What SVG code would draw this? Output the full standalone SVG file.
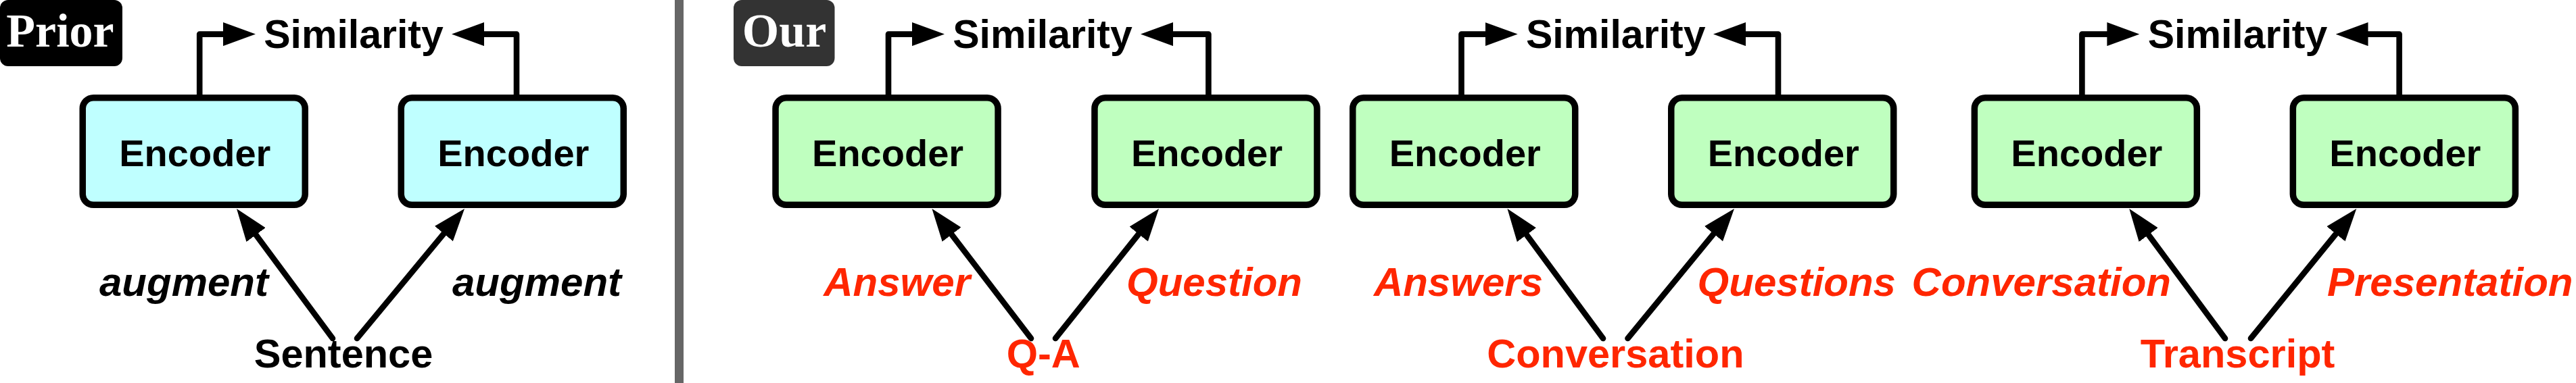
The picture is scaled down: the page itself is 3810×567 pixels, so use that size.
<svg xmlns="http://www.w3.org/2000/svg" width="3810" height="567" viewBox="0 0 3810 567">
<style>
.bg{fill:#ffffff}
.enc rect{stroke:#000;stroke-width:9.5}
.prior rect{fill:#bfffff}
.our rect{fill:#bfffbf}
.t{font-family:"Liberation Sans",Arial,Helvetica,sans-serif;font-weight:bold;text-anchor:middle}
.et{font-size:56px;fill:#000}
.sim{font-size:59px;fill:#000}
.src{font-size:59.5px}
.lab{font-family:"Liberation Sans",Arial,Helvetica,sans-serif;font-weight:bold;font-style:italic;font-size:60px}
.red{fill:#ff2600}
.blk{fill:#000}
.tag{font-family:"Liberation Serif","Times New Roman",serif;font-weight:bold;font-size:70px;fill:#fff;text-anchor:middle}
.conn path{fill:none;stroke:#000;stroke-width:8.6;stroke-linejoin:round;stroke-linecap:round;marker-end:url(#ah)}
.conn path.el{stroke-linecap:butt}
</style>
<defs>
<marker id="ah" markerUnits="userSpaceOnUse" viewBox="0 0 48 35" refX="8" refY="17.5" markerWidth="48" markerHeight="35" orient="auto">
<path d="M0,0 L48,17.5 L0,35 Z" fill="#000"/>
</marker>
</defs>
<rect class="bg" x="0" y="0" width="3810" height="567"/>

<g id="prior-tag"><rect x="0" y="0" width="181" height="98" rx="12" fill="#000"/><text class="tag" x="89" y="69">Prior</text></g>
<g id="divider"><rect x="998" y="0" width="13" height="567" fill="#666666"/></g>
<g id="our-tag"><rect x="1085" y="0" width="149.5" height="98" rx="12" fill="#333333"/><text class="tag" x="1160" y="69">Our</text></g>

<!-- Prior panel -->
<g id="enc-p1" class="enc prior"><rect x="122.25" y="144.75" width="329" height="158.5" rx="16"/><text class="t et" x="288.3" y="246">Encoder</text></g>
<g id="enc-p2" class="enc prior"><rect x="593.25" y="144.75" width="329" height="158.5" rx="16"/><text class="t et" x="759.3" y="246">Encoder</text></g>
<g id="sim-p"><text class="t sim" x="523" y="71">Similarity</text></g>
<g id="src-p"><text class="t src blk" x="508" y="544">Sentence</text></g>

<!-- Our group 1 -->
<g id="enc-g1a" class="enc our"><rect x="1147.05" y="144.75" width="329" height="158.5" rx="16"/><text class="t et" x="1313.1" y="246">Encoder</text></g>
<g id="enc-g1b" class="enc our"><rect x="1618.95" y="144.75" width="329" height="158.5" rx="16"/><text class="t et" x="1785" y="246">Encoder</text></g>
<g id="sim-g1"><text class="t sim" x="1542" y="71">Similarity</text></g>
<g id="src-g1"><text class="t src red" x="1543.3" y="544">Q-A</text></g>

<!-- Our group 2 -->
<g id="enc-g2a" class="enc our"><rect x="2000.75" y="144.75" width="329" height="158.5" rx="16"/><text class="t et" x="2166.8" y="246">Encoder</text></g>
<g id="enc-g2b" class="enc our"><rect x="2471.75" y="144.75" width="329" height="158.5" rx="16"/><text class="t et" x="2637.8" y="246">Encoder</text></g>
<g id="sim-g2"><text class="t sim" x="2389.7" y="71">Similarity</text></g>
<g id="src-g2"><text class="t src red" x="2389.4" y="544">Conversation</text></g>

<!-- Our group 3 -->
<g id="enc-g3a" class="enc our"><rect x="2920.35" y="144.75" width="329" height="158.5" rx="16"/><text class="t et" x="3086.4" y="246">Encoder</text></g>
<g id="enc-g3b" class="enc our"><rect x="3391.35" y="144.75" width="329" height="158.5" rx="16"/><text class="t et" x="3557.4" y="246">Encoder</text></g>
<g id="sim-g3"><text class="t sim" x="3309.5" y="71">Similarity</text></g>
<g id="src-g3"><text class="t src red" x="3309.5" y="544">Transcript</text></g>

<g id="connectors" class="conn">
<path class="el" d="M295.2,145 V50.6 H338"/>
<path class="el" d="M764,145 V50.6 H708"/>
<path d="M492,501 L373.8,341.2"/>
<path d="M528,501 L661.5,339.8"/>

<path class="el" d="M1314,145 V50.6 H1357"/>
<path class="el" d="M1787.4,145 V50.6 H1727"/>
<path d="M1525,501 L1402.7,340.8"/>
<path d="M1561,501 L1689.1,340.3"/>

<path class="el" d="M2161.5,145 V50.6 H2204.7"/>
<path class="el" d="M2630,145 V50.6 H2574"/>
<path d="M2371,501 L2253.2,341.2"/>
<path d="M2407.5,501 L2539.6,339.9"/>

<path class="el" d="M3079.4,145 V50.6 H3124.4"/>
<path class="el" d="M3548.6,145 V50.6 H3494.5"/>
<path d="M3291,501 L3173,341.2"/>
<path d="M3329,501 L3460,340"/>
</g>

<g id="edge-labels">
<text class="lab blk" x="397" y="437.5" text-anchor="end">augment</text>
<text class="lab blk" x="669" y="437.5">augment</text>
<text class="lab red" x="1435" y="437.5" text-anchor="end">Answer</text>
<text class="lab red" x="1666" y="437.5">Question</text>
<text class="lab red" x="2282" y="437.5" text-anchor="end">Answers</text>
<text class="lab red" x="2510.6" y="437.5">Questions</text>
<text class="lab red" x="3211" y="437.5" text-anchor="end">Conversation</text>
<text class="lab red" x="3442" y="437.5">Presentation</text>
</g>
</svg>
